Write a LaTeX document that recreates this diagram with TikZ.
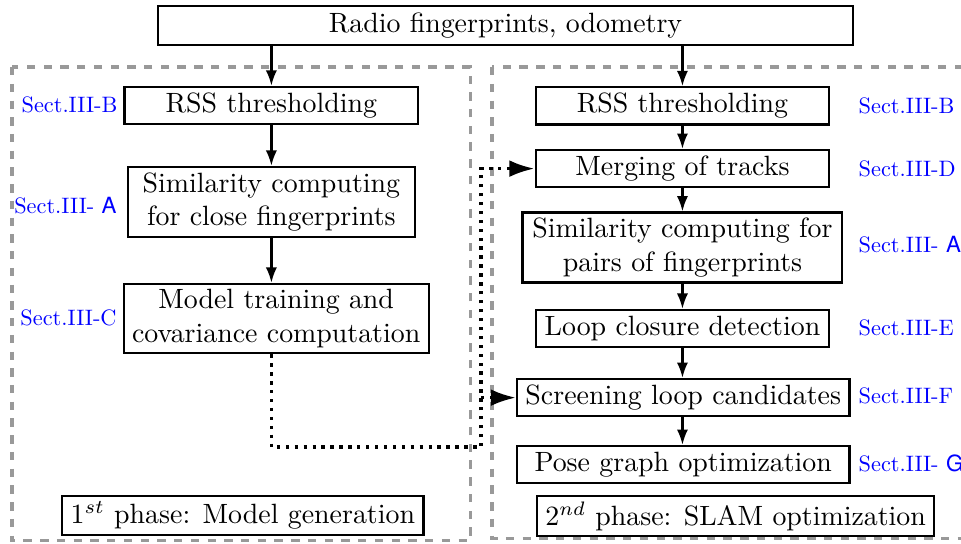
\documentclass[tikz,border=0pt]{standalone}
\usepackage{fontspec}
\newfontfamily\secsans{TeX Gyre Heros}
\usetikzlibrary{arrows.meta}

\begin{document}
\begin{tikzpicture}[>={Latex[length=5.5pt,width=4pt]}, thick,
	block/.style={draw, inner xsep=3pt, inner ysep=2pt, minimum width=3.7cm, minimum height=0.47cm, align=center},
	sect/.style={text=blue, scale=0.8, inner sep=0pt},
	phase/.style={draw=gray!80, very thick, dashed},
	link/.style={very thick, dotted, -{Latex[length=9pt,width=6pt]}}]

	%% fix the page size
	\useasboundingbox (0,0) rectangle (12.11,6.845);

	%% the two phases
	\draw[phase] (0.15,6.0) rectangle (5.925,0.03);
	\draw[phase] (6.2,6.0) rectangle (12.4,0.06);

	\node[block, minimum width=8.76cm, minimum height=0.49cm] (input) at (6.37,6.524) {Radio fingerprints, odometry};

	%% 1st phase
	\node[block] (rssA) at (3.42,5.515) {RSS thresholding};
	\node[block, minimum width=3.62cm] (simA) at (3.42,4.30) {Similarity computing\\for close fingerprints};
	\node[block, minimum width=3.81cm] (modelA) at (3.48,2.83) {Model training and\\covariance computation};
	\node[block, minimum width=4.42cm] (phaseA) at (3.06,0.347) {$1^{st}$ phase: Model generation};

	\node[sect, anchor=east] (secB1) at (1.49,5.52) {Sect.III-B};
	\node[sect, anchor=east] (secA1) at (1.48,4.25) {Sect.III- {\secsans A}};
	\node[sect, anchor=east] (secC) at (1.48,2.836) {Sect.III-C};

	%% 2nd phase
	\node[block] (rssB) at (8.60,5.51) {RSS thresholding};
	\node[block] (merge) at (8.60,4.72) {Merging of tracks};
	\node[block, minimum width=4.03cm] (simB) at (8.60,3.725) {Similarity computing for\\pairs of fingerprints};
	\node[block] (loop) at (8.60,2.704) {Loop closure detection};
	\node[block, minimum width=4.13cm] (screen) at (8.61,1.834) {Screening loop candidates};
	\node[block, minimum width=4.19cm] (pose) at (8.61,0.99) {Pose graph optimization};
	\node[block, minimum width=5.0cm] (phaseB) at (9.27,0.34) {$2^{nd}$ phase: SLAM optimization};

	\node[sect, anchor=west] (secB2) at (10.81,5.51) {Sect.III-B};
	\node[sect, anchor=west] (secD) at (10.81,4.715) {Sect.III-D};
	\node[sect, anchor=west] (secA2) at (10.81,3.757) {Sect.III- {\secsans A}};
	\node[sect, anchor=west] (secE) at (10.81,2.71) {Sect.III-E};
	\node[sect, anchor=west] (secF) at (10.81,1.853) {Sect.III-F};
	\node[sect, anchor=west] (secG) at (10.81,1.008) {Sect.III- {\secsans G}};

	%% arrows
	\draw[->] (input.south -| rssA.north) -- (rssA.north);
	\draw[->] (input.south -| rssB.north) -- (rssB.north);

	\draw[->] (rssA) -- (simA);
	\draw[->] (simA.south) -- (simA.south |- modelA.north);

	\draw[->] (rssB) -- (merge);
	\draw[->] (merge) -- (simB);
	\draw[->] (simB.south -| loop.north) -- (loop.north);
	\draw[->] (loop) -- (screen.north -| loop.north);
	\draw[->] (screen.south -| loop.north) -- (pose.north -| loop.north);

	%% model goes to the 2nd phase
	\coordinate (bend) at (6.063,1.21);
	\draw[link] (simA.south |- modelA.south) |- (bend) -- (bend |- merge.west) -- (merge.west);
	\draw[link] (bend |- screen.west) -- (screen.west);

\end{tikzpicture}
\end{document}
